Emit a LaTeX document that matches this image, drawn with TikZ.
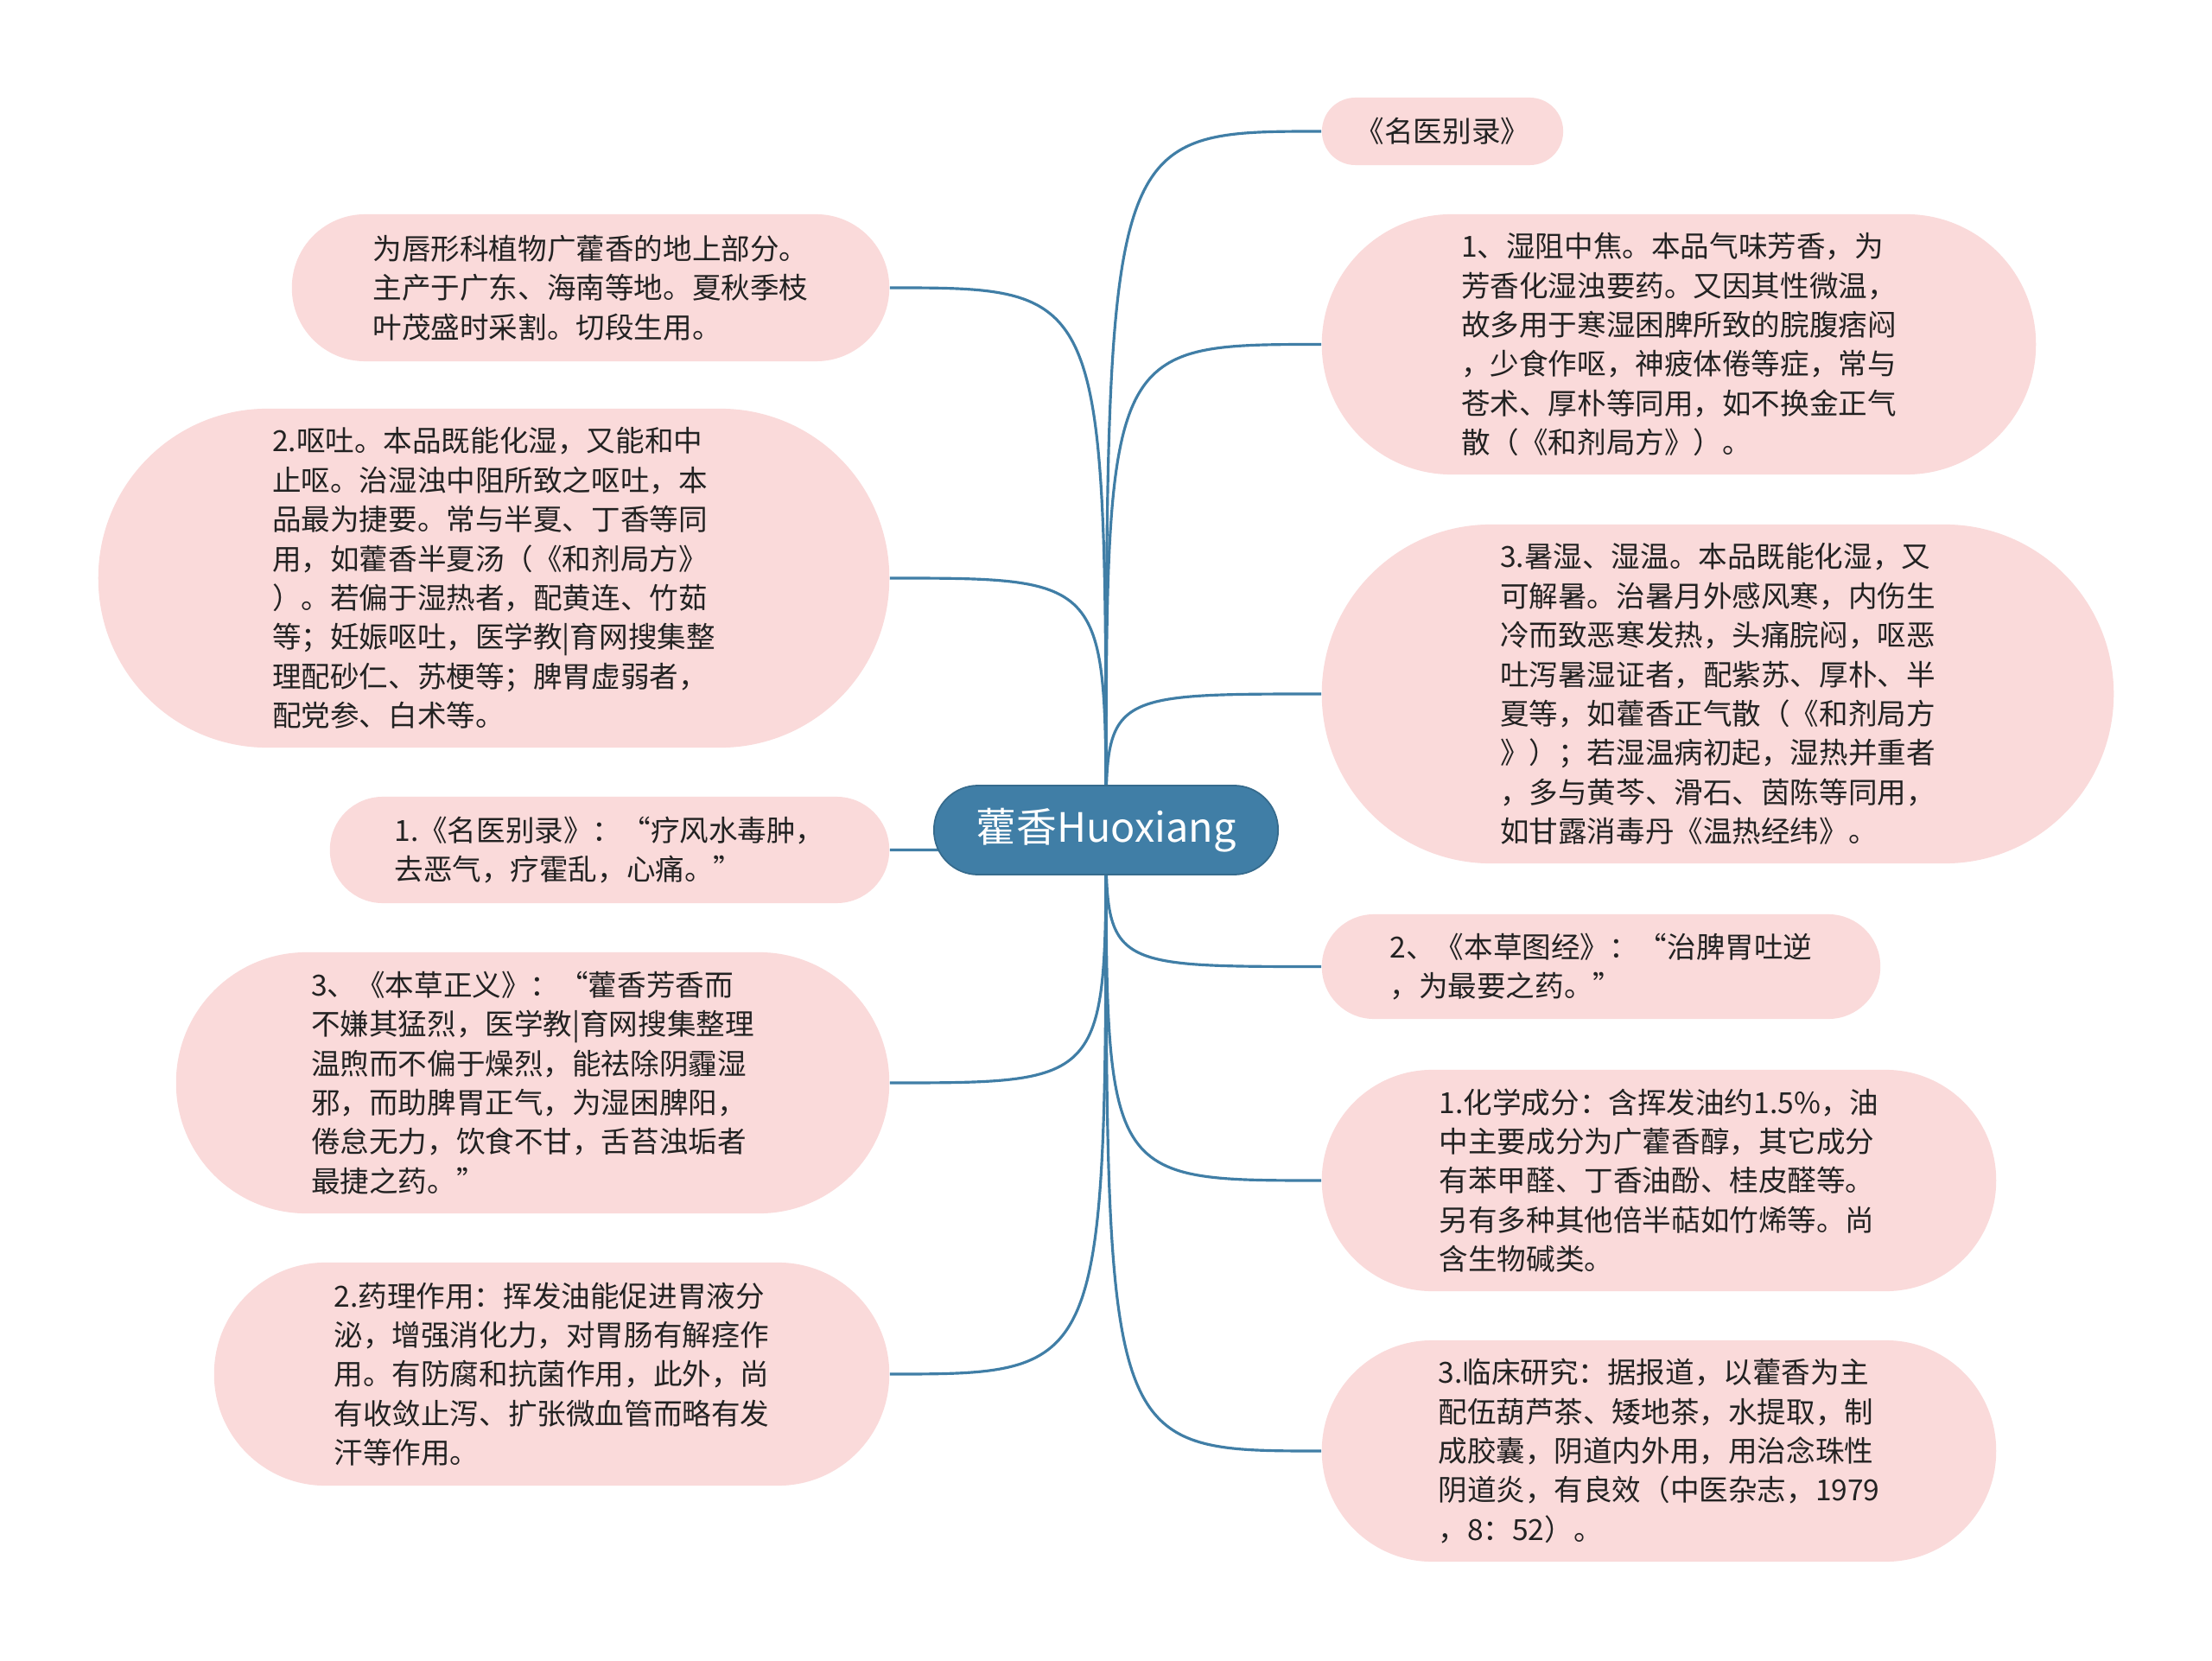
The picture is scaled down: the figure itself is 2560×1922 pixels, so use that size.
\documentclass[tikz,border=0pt]{standalone}
\usepackage{fontspec}
\setmainfont{Noto Sans CJK SC}
\definecolor{hubblue}{RGB}{64,126,166}
\definecolor{leafpink}{RGB}{250,218,218}
\definecolor{inkgray}{RGB}{34,34,34}
\begin{document}
\begin{tikzpicture}[x=0.01cm,y=-0.01cm,font=\fontsize{9.55}{12.9}\selectfont,
  leaf/.style 2 args={fill=leafpink,text=inkgray,align=left,inner sep=0pt,
    minimum width=#1cm,minimum height=#2cm,rounded corners=#2*5mm-0.1pt},
  link/.style={hubblue,line width=0.9pt}]
\fill[white] (0,0) rectangle (2560,1922);
\useasboundingbox (0,0) rectangle (2560,1922);

\node[leaf={6.91}{1.70}] (l1) at (683.5,333) {为唇形科植物广藿香的地上部分。\\主产于广东、海南等地。夏秋季枝\\叶茂盛时采割。切段生用。};
\node[leaf={9.15}{3.92}] (l2) at (571.5,669) {2.呕吐。本品既能化湿，又能和中\\止呕。治湿浊中阻所致之呕吐，本\\品最为捷要。常与半夏、丁香等同\\用，如藿香半夏汤（《和剂局方》\\）。若偏于湿热者，配黄连、竹茹\\等；妊娠呕吐，医学教|育网搜集整\\理配砂仁、苏梗等；脾胃虚弱者，\\配党参、白术等。};
\node[leaf={6.47}{1.23}] (l3) at (705.5,983.5) {1.《名医别录》：“疗风水毒肿，\\去恶气，疗霍乱，心痛。”};
\node[leaf={8.25}{3.02}] (l4) at (616.5,1253) {3、《本草正义》：“藿香芳香而\\不嫌其猛烈，医学教|育网搜集整理\\温煦而不偏于燥烈，能祛除阴霾湿\\邪，而助脾胃正气，为湿困脾阳，\\倦怠无力，饮食不甘，舌苔浊垢者\\最捷之药。”};
\node[leaf={7.81}{2.58}] (l5) at (638.5,1590) {2.药理作用：挥发油能促进胃液分\\泌，增强消化力，对胃肠有解痉作\\用。有防腐和抗菌作用，此外，尚\\有收敛止泻、扩张微血管而略有发\\汗等作用。};

\node[leaf={2.79}{0.78}] (r1) at (1669.5,152) {《名医别录》};
\node[leaf={8.26}{3.01}] (r2) at (1943,398.5) {1、湿阻中焦。本品气味芳香，为\\芳香化湿浊要药。又因其性微温，\\故多用于寒湿困脾所致的脘腹痞闷\\，少食作呕，神疲体倦等症，常与\\苍术、厚朴等同用，如不换金正气\\散（《和剂局方》）。};
\node[leaf={9.16}{3.92}] (r3) at (1988,803) {3.暑湿、湿温。本品既能化湿，又\\可解暑。治暑月外感风寒，内伤生\\冷而致恶寒发热，头痛脘闷，呕恶\\吐泻暑湿证者，配紫苏、厚朴、半\\夏等，如藿香正气散（《和剂局方\\》）；若湿温病初起，湿热并重者\\，多与黄芩、滑石、茵陈等同用，\\如甘露消毒丹《温热经纬》。};
\node[leaf={6.46}{1.21}] (r4) at (1853,1118.5) {2、《本草图经》：“治脾胃吐逆\\，为最要之药。”};
\node[leaf={7.80}{2.56}] (r5) at (1920,1366) {1.化学成分：含挥发油约1.5\%，油\\中主要成分为广藿香醇，其它成分\\有苯甲醛、丁香油酚、桂皮醛等。\\另有多种其他倍半萜如竹烯等。尚\\含生物碱类。};
\node[leaf={7.80}{2.56}] (r6) at (1920,1679) {3.临床研究：据报道，以藿香为主\\配伍葫芦茶、矮地茶，水提取，制\\成胶囊，阴道内外用，用治念珠性\\阴道炎，有良效（中医杂志，1979\\，8：52）。};

\coordinate (hub) at (1280,960.5);
\foreach \n in {l1,l2,l3,l4,l5}
  \draw[link] (hub) .. controls (hub |- \n.east) .. (\n.east);
\foreach \n in {r1,r2,r3,r4,r5,r6}
  \draw[link] (hub) .. controls (hub |- \n.west) .. (\n.west);

\node[fill=hubblue,draw=hubblue!85!black,line width=0.5pt,text=white,inner sep=0pt,
  minimum width=3.98cm,minimum height=1.03cm,rounded corners=5.1mm,
  font=\fontsize{13.3}{16}\selectfont] (centre) at (hub) {藿香Huoxiang};
\end{tikzpicture}
\end{document}
